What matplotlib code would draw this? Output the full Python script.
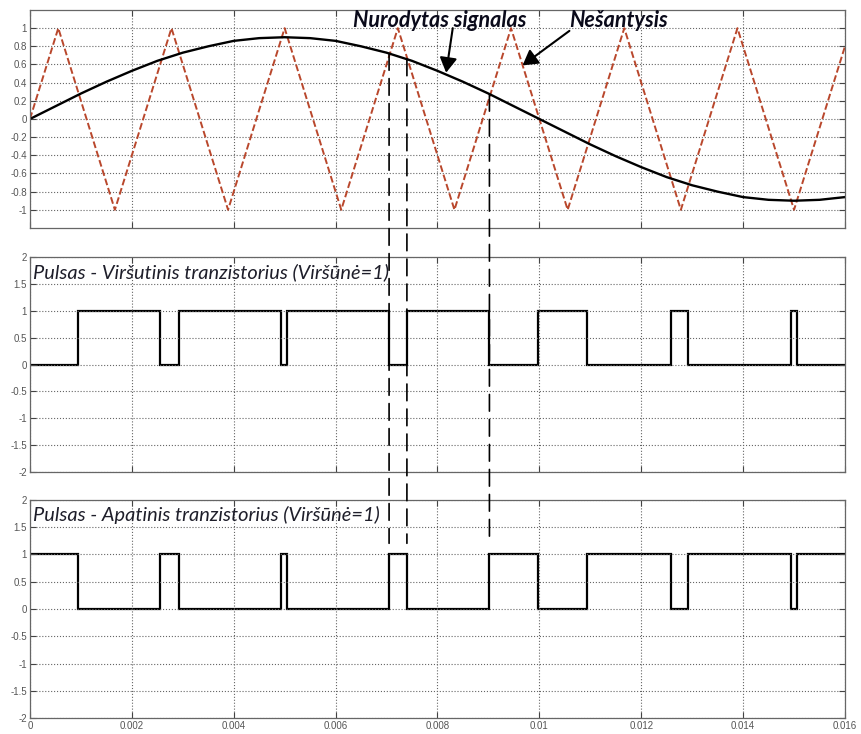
import matplotlib
matplotlib.use("Agg")
import matplotlib.pyplot as plt
from matplotlib.patches import ConnectionPatch

# carrier (triangle) vertices
carrier_t = [0.0, 0.000556, 0.001667, 0.002778, 0.003889, 0.005, 0.006111,
             0.007222, 0.008333, 0.009444, 0.010556, 0.011667, 0.012778,
             0.013889, 0.015, 0.016]
carrier_v = [0.0, 1.0, -1.0, 1.0, -1.0, 1.0, -1.0,
             1.0, -1.0, 1.0, -1.0, 1.0, -1.0,
             1.0, -1.0, 0.8]

# reference signal samples
ref_t = [0.0, 0.0005, 0.001, 0.0015, 0.002, 0.0025, 0.003, 0.0035, 0.004,
         0.0045, 0.005, 0.0055, 0.006, 0.0065, 0.007, 0.0075, 0.008, 0.0085,
         0.009, 0.0095, 0.01, 0.0105, 0.011, 0.0115, 0.012, 0.0125, 0.013,
         0.0135, 0.014, 0.0145, 0.015, 0.0155, 0.016]
ref_v = [0.0, 0.14, 0.28, 0.41, 0.53, 0.64, 0.73, 0.80, 0.86,
         0.89, 0.90, 0.89, 0.86, 0.80, 0.73, 0.64, 0.53, 0.41,
         0.28, 0.14, 0.0, -0.14, -0.28, -0.41, -0.53, -0.64, -0.73,
         -0.80, -0.86, -0.89, -0.90, -0.89, -0.86]

# switching instants (edges) and gate levels between them
pulse_edges = [0.0, 0.00094, 0.00256, 0.00292, 0.00493, 0.00504, 0.00705,
               0.0074, 0.00902, 0.00998, 0.01094, 0.01258, 0.01292,
               0.01495, 0.01505, 0.016]
upper_levels = [0, 1, 0, 1, 0, 1, 0, 1, 0, 1, 0, 1, 0, 1, 0]
lower_levels = [1, 0, 1, 0, 1, 0, 1, 0, 1, 0, 1, 0, 1, 0, 1]

# crossings marked with vertical guides: time, value on the reference
marker_t = [0.00705, 0.0074, 0.00902]
marker_v = [0.72, 0.66, 0.27]

x_ticks = [0, 0.002, 0.004, 0.006, 0.008, 0.01, 0.012, 0.014, 0.016]
x_tick_labels = ["0", "0.002", "0.004", "0.006", "0.008", "0.01", "0.012",
                 "0.014", "0.016"]
top_y_ticks = [-1, -0.8, -0.6, -0.4, -0.2, 0, 0.2, 0.4, 0.6, 0.8, 1]
top_y_labels = ["-1", "-0.8", "-0.6", "-0.4", "-0.2", "0", "0.2", "0.4",
                "0.6", "0.8", "1"]
pulse_y_ticks = [-2, -1.5, -1, -0.5, 0, 0.5, 1, 1.5, 2]
pulse_y_labels = ["-2", "-1.5", "-1", "-0.5", "0", "0.5", "1", "1.5", "2"]

TICK_FONT = "Liberation Sans"
NOTE_FONT = "Lato"


def style_axes(ax, yticks, ylabels, ylim, show_x):
    ax.set_xlim(0, 0.016)
    ax.set_ylim(*ylim)
    ax.set_xticks(x_ticks)
    ax.set_yticks(yticks)
    ax.set_yticklabels(ylabels, fontfamily=TICK_FONT, fontsize=7, color="#555555")
    if show_x:
        ax.set_xticklabels(x_tick_labels, fontfamily=TICK_FONT, fontsize=7,
                           color="#555555")
    else:
        ax.set_xticklabels([])
    ax.tick_params(direction="in", length=4, width=0.8, color="#444444",
                   top=True, right=True, pad=2)
    ax.grid(True, linestyle=":", linewidth=0.8, color="#666666")
    for sp in ax.spines.values():
        sp.set_color("#666666")
        sp.set_linewidth(0.9)


fig = plt.figure(figsize=(8.61, 7.34), dpi=100)
ax1 = fig.add_axes([0.0348, 0.6894, 0.9466, 0.297])
ax2 = fig.add_axes([0.0348, 0.3565, 0.9466, 0.2937])
ax3 = fig.add_axes([0.0348, 0.0214, 0.9466, 0.298])

# modulation: carrier vs reference
ax1.plot(carrier_t, carrier_v, color="#b9472c", linewidth=1.4,
         linestyle=(0, (3.5, 1.5)))
ax1.plot(ref_t, ref_v, color="black", linewidth=1.7)
style_axes(ax1, top_y_ticks, top_y_labels, (-1.2, 1.2), False)

ax1.text(0.00805, 1.01, "Nurodytas signalas", ha="center", va="baseline",
         fontfamily=NOTE_FONT, fontsize=15.5, fontweight="bold",
         fontstyle="italic", color="#0a0a1a")
ax1.text(0.01156, 1.01, "Nešantysis", ha="center", va="baseline",
         fontfamily=NOTE_FONT, fontsize=15.5, fontweight="bold",
         fontstyle="italic", color="#0a0a1a")
arrow = dict(arrowstyle="-|>,head_length=0.6,head_width=0.35",
             color="black", lw=1.5, mutation_scale=15, shrinkA=0, shrinkB=0)
ax1.annotate("", xy=(0.00817, 0.51), xytext=(0.0083, 1.0), arrowprops=arrow)
ax1.annotate("", xy=(0.00967, 0.59), xytext=(0.01059, 0.97), arrowprops=arrow)

# gate pulses
ax2.stairs(upper_levels, pulse_edges, baseline=None, color="black", linewidth=1.6)
style_axes(ax2, pulse_y_ticks, pulse_y_labels, (-2, 2), False)
ax2.text(0.00005, 1.72, "Pulsas - Viršutinis tranzistorius (Viršūnė=1)",
         va="center", ha="left", fontfamily=NOTE_FONT, fontsize=14.4,
         fontstyle="italic", color="#1e1e2a")

ax3.stairs(lower_levels, pulse_edges, baseline=None, color="black", linewidth=1.6)
style_axes(ax3, pulse_y_ticks, pulse_y_labels, (-2, 2), True)
ax3.text(0.00005, 1.72, "Pulsas - Apatinis tranzistorius (Viršūnė=1)",
         va="center", ha="left", fontfamily=NOTE_FONT, fontsize=14.4,
         fontstyle="italic", color="#1e1e2a")

# dashed guides from the crossings down to the lower gate signal
for t, v in zip(marker_t, marker_v):
    con = ConnectionPatch(xyA=(t, v), coordsA=ax1.transData,
                          xyB=(t, 1.2), coordsB=ax3.transData,
                          color="black", linewidth=1.2,
                          linestyle=(0, (10, 5)))
    fig.add_artist(con)

fig.savefig("out.png", dpi=100)
